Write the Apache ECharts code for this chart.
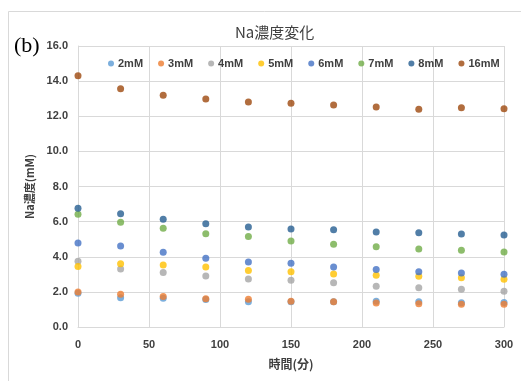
<!DOCTYPE html>
<html>
<head>
<meta charset="utf-8">
<script src="https://cdn.jsdelivr.net/npm/echarts@6/dist/echarts.min.js"></script>
<style>
  html, body { margin: 0; padding: 0; background: #fff; }
  #chart { width: 521px; height: 381px; }
</style>
</head>
<body>
<div id="chart"></div>
<script>
// Sampling times (minutes)
const times = [0, 30, 60, 90, 120, 150, 180, 210, 240, 270, 300];

// Na concentration (mM) for each initial concentration
const na2  = [1.92, 1.67, 1.63, 1.56, 1.44, 1.44, 1.44, 1.46, 1.44, 1.38, 1.40];
const na3  = [1.99, 1.86, 1.73, 1.61, 1.58, 1.46, 1.44, 1.37, 1.33, 1.29, 1.29];
const na4  = [3.74, 3.30, 3.11, 2.90, 2.73, 2.66, 2.52, 2.32, 2.24, 2.15, 2.03];
const na5  = [3.45, 3.60, 3.53, 3.42, 3.21, 3.15, 3.02, 2.94, 2.89, 2.81, 2.72];
const na6  = [4.78, 4.61, 4.25, 3.91, 3.70, 3.63, 3.42, 3.28, 3.15, 3.08, 3.00];
const na7  = [6.42, 5.96, 5.62, 5.31, 5.16, 4.90, 4.71, 4.57, 4.44, 4.37, 4.27];
const na8  = [6.76, 6.45, 6.13, 5.88, 5.69, 5.58, 5.54, 5.41, 5.37, 5.30, 5.24];
const na16 = [14.31, 13.57, 13.19, 12.98, 12.81, 12.74, 12.64, 12.53, 12.40, 12.49, 12.43];

const seriesNames = ['2mM', '3mM', '4mM', '5mM', '6mM', '7mM', '8mM', '16mM'];
const seriesValues = [na2, na3, na4, na5, na6, na7, na8, na16];
const seriesColors = ['#5B9BD5', '#ED7D31', '#A5A5A5', '#FFC000', '#4472C4', '#70AD47', '#255E91', '#9E480E'];

const labelFont = '"Liberation Sans", Arial, sans-serif';
const cjkFont = '"Noto Sans CJK JP", "Noto Sans", sans-serif';

const chart = echarts.init(document.getElementById('chart'), null, { renderer: 'canvas' });

const series = seriesNames.map((name, i) => ({
  name: name,
  type: 'scatter',
  symbol: 'circle',
  symbolSize: 7,
  itemStyle: { color: seriesColors[i] },
  data: times.map((t, k) => [t, seriesValues[i][k]])
}));

chart.setOption({
  animation: false,
  backgroundColor: '#fff',
  title: {
    text: 'Na濃度変化',
    left: 230,
    top: 20,
    textStyle: { fontFamily: cjkFont, fontSize: 15, fontWeight: 'normal', color: '#404040' }
  },
  legend: {
    data: seriesNames,
    left: 103,
    top: 53,
    icon: 'circle',
    itemWidth: 6,
    itemHeight: 6,
    itemGap: 15,
    textStyle: { fontFamily: labelFont, fontSize: 11, fontWeight: 'bold', color: '#404040', padding: [0, 0, 0, -1] }
  },
  grid: { left: 78, right: 17, top: 46, bottom: 54 },
  xAxis: {
    type: 'value',
    min: 0, max: 300, interval: 50,
    name: '時間(分)',
    nameLocation: 'middle',
    nameGap: 31,
    nameTextStyle: { fontFamily: cjkFont, fontSize: 12, fontWeight: 'bold', color: '#404040' },
    axisLine: { show: true, lineStyle: { color: '#d9d9d9' } },
    axisTick: { show: false },
    axisLabel: { margin: 12, fontFamily: labelFont, fontSize: 11, fontWeight: 'bold', color: '#404040' },
    splitLine: { show: true, lineStyle: { color: '#d9d9d9' } }
  },
  yAxis: {
    type: 'value',
    min: 0, max: 16, interval: 2,
    name: 'Na濃度(mM)',
    nameLocation: 'middle',
    nameGap: 38,
    nameRotate: 90,
    nameTextStyle: { fontFamily: cjkFont, fontSize: 11, fontWeight: 'bold', color: '#404040' },
    axisLine: { show: true, lineStyle: { color: '#d9d9d9' } },
    axisTick: { show: false },
    axisLabel: {
      margin: 10, fontFamily: labelFont, fontSize: 11, fontWeight: 'bold', color: '#404040',
      formatter: v => v.toFixed(1)
    },
    splitLine: { show: true, lineStyle: { color: '#d9d9d9' } }
  },
  graphic: [
    {
      type: 'polyline',
      shape: { points: [[8.5, 381], [8.5, 11.5], [521, 11.5]] },
      style: { stroke: '#d9d9d9', lineWidth: 1, fill: null },
      silent: true
    },
    {
      type: 'text',
      left: 14,
      top: 35,
      style: { text: '(b)', font: '22px "Liberation Serif", "Times New Roman", serif', fill: '#000' }
    }
  ],
  series: series
});
</script>
</body>
</html>
